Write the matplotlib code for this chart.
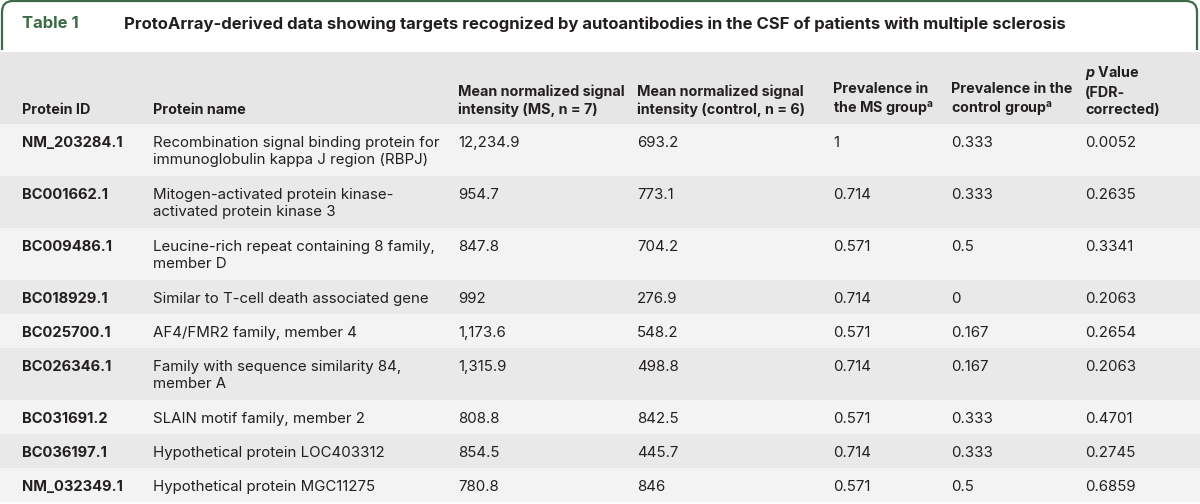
import matplotlib
matplotlib.use("Agg")
import matplotlib.pyplot as plt
from matplotlib.path import Path
from matplotlib.patches import PathPatch, Rectangle

FONT = "Inter"
plt.rcParams["font.family"] = [FONT, "DejaVu Sans"]
plt.rcParams["mathtext.fontset"] = "custom"
plt.rcParams["mathtext.rm"] = FONT + ":bold"
plt.rcParams["mathtext.it"] = FONT + ":italic:bold"
plt.rcParams["mathtext.bf"] = FONT + ":bold"

table_label = "Table 1"
title = "ProtoArray-derived data showing targets recognized by autoantibodies in the CSF of patients with multiple sclerosis"

headers = [
    "Protein ID",
    "Protein name",
    "Mean normalized signal\nintensity (MS, n = 7)",
    "Mean normalized signal\nintensity (control, n = 6)",
    "Prevalence in\nthe MS group$^{\\mathrm{a}}$",
    "Prevalence in the\ncontrol group$^{\\mathrm{a}}$",
    "$p$ Value\n(FDR-\ncorrected)",
]

protein_ids = ["NM_203284.1", "BC001662.1", "BC009486.1", "BC018929.1", "BC025700.1",
               "BC026346.1", "BC031691.2", "BC036197.1", "NM_032349.1"]
protein_names = [
    "Recombination signal binding protein for\nimmunoglobulin kappa J region (RBPJ)",
    "Mitogen-activated protein kinase-\nactivated protein kinase 3",
    "Leucine-rich repeat containing 8 family,\nmember D",
    "Similar to T-cell death associated gene",
    "AF4/FMR2 family, member 4",
    "Family with sequence similarity 84,\nmember A",
    "SLAIN motif family, member 2",
    "Hypothetical protein LOC403312",
    "Hypothetical protein MGC11275",
]
mean_ms = ["12,234.9", "954.7", "847.8", "992", "1,173.6", "1,315.9", "808.8", "854.5", "780.8"]
mean_ctrl = ["693.2", "773.1", "704.2", "276.9", "548.2", "498.8", "842.5", "445.7", "846"]
prev_ms = ["1", "0.714", "0.571", "0.714", "0.571", "0.714", "0.571", "0.714", "0.571"]
prev_ctrl = ["0.333", "0.333", "0.5", "0", "0.167", "0.167", "0.333", "0.333", "0.5"]
p_values = ["0.0052", "0.2635", "0.3341", "0.2063", "0.2654", "0.2063", "0.4701", "0.2745", "0.6859"]

W, H = 1200, 504
fig = plt.figure(figsize=(W / 100, H / 100), dpi=100)
ax = fig.add_axes([0, 0, 1, 1])
ax.set_xlim(0, W)
ax.set_ylim(H, 0)
ax.axis("off")

green = "#3d6b47"
text_c = "#231f20"
col_x = [22, 153, 458, 637, 833, 951, 1085]
fs_body = 10.8
fs_id = 10.6
fs_hdr = 10.3
fs_title = 12.0

# title box border
r = 11
verts = [(2, 50), (2, 1 + r), (2, 1), (2 + r, 1), (1197 - r, 1), (1197, 1), (1197, 1 + r), (1197, 50)]
codes = [Path.MOVETO, Path.LINETO, Path.CURVE3, Path.CURVE3, Path.LINETO, Path.CURVE3, Path.CURVE3, Path.LINETO]
ax.add_patch(PathPatch(Path(verts, codes), fill=False, edgecolor=green, lw=1.6))
ax.text(22, 24, table_label, color=green, fontsize=fs_title, fontweight="bold", va="center")
ax.text(124, 24, title, color=text_c, fontsize=fs_title, fontweight="bold", va="center")

# header
hdr_top, hdr_bot = 52, 124
ax.add_patch(Rectangle((0, hdr_top), W, hdr_bot - hdr_top, color="#e6e6e6", lw=0))
for x, h in zip(col_x, headers):
    ax.text(x, 114, h, color=text_c, fontsize=fs_hdr, fontweight="bold", va="baseline",
            ha="left", linespacing=1.3)

# rows
y = hdr_bot
cols = [protein_ids, protein_names, mean_ms, mean_ctrl, prev_ms, prev_ctrl, p_values]
for i in range(len(protein_ids)):
    nl = protein_names[i].count("\n") + 1
    rh = 52 if nl == 2 else 34
    bg = "#f3f3f3" if i % 2 == 0 else "#e9e9e9"
    ax.add_patch(Rectangle((0, y), W, rh, color=bg, lw=0))
    for j, (x, col) in enumerate(zip(col_x, cols)):
        ax.text(x, y + 12, col[i], color=text_c,
                fontsize=fs_id if j == 0 else fs_body,
                fontweight="bold" if j == 0 else "normal", va="top", ha="left",
                linespacing=1.25)
    y += rh

fig.savefig("out.png", dpi=100, facecolor="white")
